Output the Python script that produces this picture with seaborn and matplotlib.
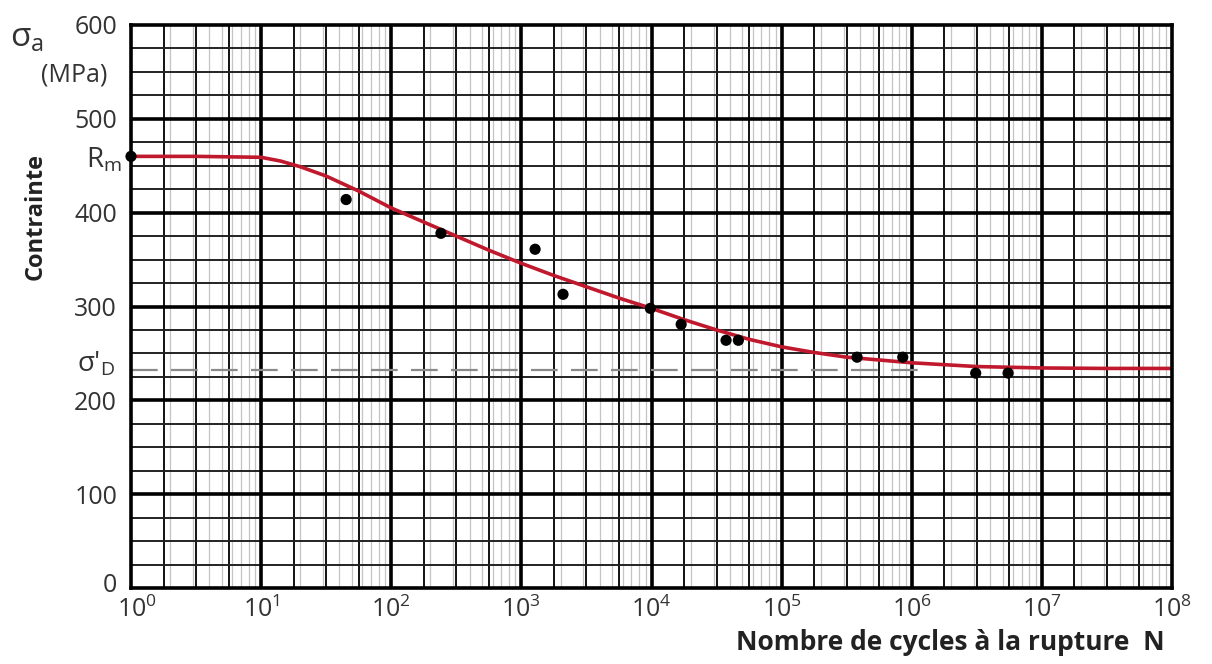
import numpy as np
import pandas as pd
import matplotlib
matplotlib.use("Agg")
import matplotlib.pyplot as plt
import matplotlib.transforms as mtransforms
import seaborn as sns

# ---------------- data ----------------
# measured points (cycles to failure, stress amplitude MPa)
pts_N = [1, 45, 241, 1275, 2090, 9800, 16900, 37400, 46500, 380000, 853000, 3.1e6, 5.5e6]
pts_s = [460, 414, 378, 361, 313, 298, 281, 264, 264, 246, 246, 229, 229]

# fitted Wöhler curve (log10 N, MPa)
curve_logN = [0.0, 0.5, 1.0, 1.15, 1.3, 1.5, 1.75, 2.0, 2.25, 2.5, 2.75, 3.0, 3.25, 3.5,
              3.75, 4.0, 4.25, 4.5, 4.75, 5.0, 5.25, 5.5, 5.75, 6.0, 6.5, 7.0, 7.5, 8.0]
curve_s = [460, 460, 459, 455, 449, 439, 423, 405, 390, 375, 360, 346, 333, 321,
           309, 298, 286, 275, 265, 257, 251, 246, 243, 240, 236, 234.5, 234, 234]

sigma_D = 232
sigma_D_end_N = 1.4e6
Rm = 460

xticks = [1, 10, 100, 1e3, 1e4, 1e5, 1e6, 1e7, 1e8]
xtick_labels = ["$10^{0}$", "$10^{1}$", "$10^{2}$", "$10^{3}$", "$10^{4}$",
                "$10^{5}$", "$10^{6}$", "$10^{7}$", "$10^{8}$"]
yticks = [0, 100, 200, 300, 400, 500, 600]
ytick_labels = ["0", "100", "200", "300", "400", "500", "600"]

# ---------------- style ----------------
sns.set_theme(style="white")
plt.rcParams["font.family"] = ["Open Sans", "DejaVu Sans"]
plt.rcParams["mathtext.fontset"] = "custom"
plt.rcParams["mathtext.rm"] = "Open Sans"
plt.rcParams["mathtext.it"] = "Open Sans"
plt.rcParams["mathtext.bf"] = "Open Sans:bold"

fig = plt.figure(figsize=(12.12, 6.64), dpi=100)
ax = fig.add_axes([131 / 1212, 1 - 588 / 664, 1041 / 1212, 563 / 664])

ax.set_xscale("log")
ax.set_xlim(1, 1e8)
ax.set_ylim(0, 600)

# grid: light gray log minors, black quarter-decade lines, thick decades
for d in range(0, 8):
    for m in range(2, 10):
        ax.axvline(m * 10 ** d, color="#c4c4c4", lw=0.9, zorder=0.5)
    for q in (0.25, 0.5, 0.75):
        ax.axvline(10 ** (d + q), color="#111111", lw=1.4, zorder=1)
for d in range(1, 8):
    ax.axvline(10 ** d, color="#000000", lw=2.6, zorder=1.2)
for yv in np.arange(25, 600, 25):
    if yv % 100 == 0:
        ax.axhline(yv, color="#000000", lw=2.6, zorder=1.2)
    else:
        ax.axhline(yv, color="#222222", lw=1.4, zorder=1)

# endurance limit dashed line
ax.plot([1, sigma_D_end_N], [sigma_D, sigma_D], color="#8a8a8a", lw=1.6,
        dashes=(12, 6), zorder=2)

# curve
curve_df = pd.DataFrame({"N": [10 ** v for v in curve_logN], "s": curve_s})
sns.lineplot(data=curve_df, x="N", y="s", ax=ax, color="#c0182c", lw=2.6,
             zorder=3, sort=False)

# points
pts_df = pd.DataFrame({"N": pts_N, "s": pts_s})
sns.scatterplot(data=pts_df, x="N", y="s", ax=ax, color="#000000", s=65,
                edgecolor="none", zorder=4, clip_on=False)

for sp in ax.spines.values():
    sp.set_color("#000000")
    sp.set_linewidth(2.6)
    sp.set_zorder(5)

ax.set_xticks(xticks)
ax.set_xticklabels(xtick_labels)
ax.set_yticks(yticks)
ax.set_yticklabels(ytick_labels)
ax.xaxis.set_minor_locator(matplotlib.ticker.NullLocator())
ax.tick_params(axis="both", length=0, labelsize=18, colors="#333333")
ax.tick_params(axis="x", pad=6)
ax.tick_params(axis="y", pad=10)
ax.set_xlabel("")
ax.set_ylabel("")

# nudge the corner labels apart like in the reference
xl0 = ax.get_xticklabels()[0]
xl0.set_transform(xl0.get_transform() + mtransforms.ScaledTranslation(6 / 100, 0, fig.dpi_scale_trans))
yl0 = ax.get_yticklabels()[0]
yl0.set_transform(yl0.get_transform() + mtransforms.ScaledTranslation(0, 5 / 100, fig.dpi_scale_trans))

# labels
trans = mtransforms.blended_transform_factory(ax.transAxes, ax.transData)
ax.text(-0.009, Rm - 4, "R$_\\mathrm{m}$", transform=trans, ha="right", va="center",
        fontsize=20, color="#333333")
ax.text(-0.015, sigma_D + 6, "σ$'_\\mathrm{D}$", transform=trans, ha="right",
        va="center", fontsize=20, color="#333333")

fig.text(10 / 1212, 1 - 38 / 664, "σ$_\\mathrm{a}$", ha="left", va="center",
         fontsize=24, color="#333333")
fig.text(74 / 1212, 1 - 75 / 664, "(MPa)", ha="center", va="center",
         fontsize=18, color="#333333")
fig.text(36 / 1212, 1 - 216 / 664, "Contrainte", ha="center", va="center",
         rotation=90, fontsize=17, fontweight="bold", color="#222222")
fig.text(1165 / 1212, 1 - 643 / 664, "Nombre de cycles à la rupture  N",
         ha="right", va="center", fontsize=19, fontweight="bold", color="#222222")

fig.savefig("out.png", dpi=100)
